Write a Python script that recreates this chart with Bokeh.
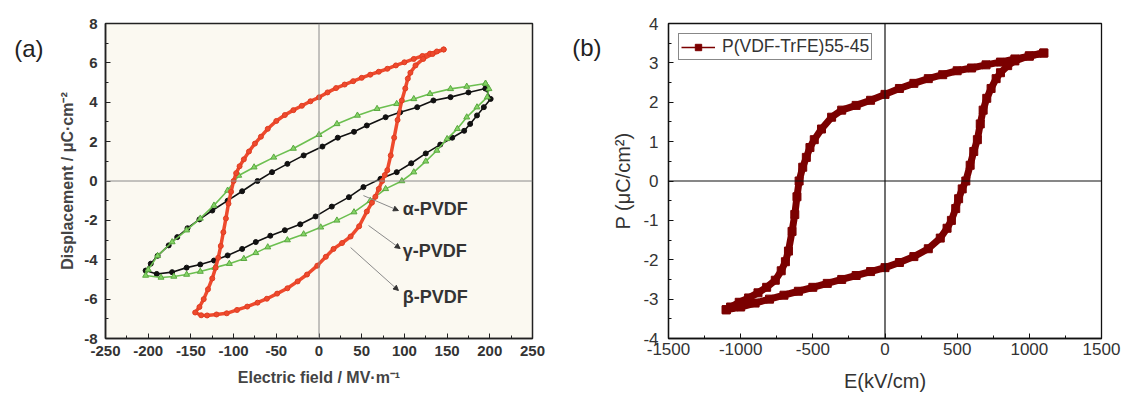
from bokeh.plotting import figure
from bokeh.layouts import row
from bokeh.models import Span, Label, Arrow, NormalHead, FixedTicker, Legend, LegendItem, LinearAxis
from bokeh.embed import file_html
from bokeh.resources import INLINE

# ---------------- Panel (a) data ----------------
alpha_E = [195, 175, 154, 134, 115, 95, 78, 56, 41, 22, 4, -18, -37, -55, -72, -90, -107, -125, -140, -154,
           -166, -176, -189, -197, -203,
           -190, -172, -155, -139, -123, -107, -90, -74, -57, -40, -22, -4, 15, 35, 52, 72, 91, 108, 125,
           142, 156, 170, 177, 185, 193, 201, 195]
alpha_D = [4.70, 4.50, 4.26, 4.09, 3.75, 3.49, 3.24, 2.82, 2.50, 2.20, 1.75, 1.30, 0.87, 0.45, 0.00, -0.52,
           -1.00, -1.50, -1.95, -2.40, -2.85, -3.27, -3.80, -4.20, -4.55,
           -4.72, -4.63, -4.40, -4.24, -4.04, -3.78, -3.45, -3.10, -2.78, -2.50, -2.20, -1.80, -1.30, -0.82,
           -0.31, 0.11, 0.45, 0.90, 1.40, 1.85, 2.20, 2.55, 2.90, 3.33, 3.75, 4.17, 4.70]

gamma_E = [195, 173, 154, 130, 111, 91, 68, 45, 21, 0, -30, -53, -76, -94, -107, -123, -139, -155, -172,
           -189, -200, -203,
           -185, -170, -155, -139, -122, -105, -88, -74, -60, -37, -18, 2, 21, 41, 60, 78, 97, 111, 125,
           138, 150, 162, 173, 185, 197, 199, 195]
gamma_D = [4.95, 4.80, 4.68, 4.43, 4.17, 3.92, 3.67, 3.33, 2.90, 2.35, 1.65, 1.20, 0.70, 0.28, -0.48, -1.24,
           -1.90, -2.50, -3.10, -3.80, -4.50, -4.80,
           -4.90, -4.85, -4.75, -4.60, -4.40, -4.20, -3.95, -3.65, -3.36, -3.00, -2.70, -2.35, -2.00, -1.58,
           -1.00, -0.40, 0.00, 0.45, 1.00, 1.55, 2.14, 2.65, 3.24, 3.75, 4.26, 4.68, 4.95]

beta_E = [146, 138, 130, 121, 111, 100, 90, 80, 70, 60, 50, 40, 30, 20, 10, 0, -10, -20, -30, -40, -50, -60,
          -68, -75, -82, -88, -93, -97, -100, -103, -106, -109, -112, -115, -118, -121, -125, -130, -135,
          -140, -145,
          -138, -131, -120, -108, -96, -84, -72, -61, -49, -37, -25, -14, -2, 8, 17, 27, 37, 47, 56, 62, 66,
          70, 74, 77, 80, 84, 88, 92, 97, 101, 104, 107, 113, 122, 133, 146]
beta_D = [6.68, 6.58, 6.47, 6.35, 6.20, 6.03, 5.87, 5.70, 5.55, 5.40, 5.24, 5.07, 4.90, 4.72, 4.50, 4.25,
          4.05, 3.82, 3.60, 3.35, 3.05, 2.65, 2.25, 1.90, 1.50, 1.10, 0.75, 0.40, 0.00, -0.55, -1.15, -1.90,
          -2.60, -3.30, -3.90, -4.40, -4.95, -5.50, -6.00, -6.40, -6.68,
          -6.82, -6.83, -6.78, -6.72, -6.55, -6.38, -6.18, -5.98, -5.72, -5.45, -5.10, -4.75, -4.30, -3.85,
          -3.45, -3.15, -2.82, -2.30, -1.55, -1.10, -0.80, -0.40, 0.00, 0.30, 0.55, 1.30, 2.20, 3.10, 4.09,
          4.70, 5.20, 5.50, 5.87, 6.20, 6.45, 6.68]

a_xticks = [-250, -200, -150, -100, -50, 0, 50, 100, 150, 200, 250]
a_xminor = [-225, -175, -125, -75, -25, 25, 75, 125, 175, 225]
a_yticks = [-8, -6, -4, -2, 0, 2, 4, 6, 8]
a_yminor = [-7, -5, -3, -1, 1, 3, 5, 7]

ann_text = ["α-PVDF", "γ-PVDF", "β-PVDF"]
ann_text_x = [98, 98, 98]
ann_text_y = [-1.40, -3.58, -5.87]
ann_from_x = [52, 58, 37]
ann_from_y = [-0.74, -2.26, -3.38]
ann_to_x = [93, 95, 93]
ann_to_y = [-1.50, -3.43, -5.56]

# ---------------- Panel (b) data ----------------
pb_E_upper = [1100, 1000, 900, 800, 700, 600, 500, 400, 300, 200, 100, 0, -100, -200, -300, -370, -440, -490,
              -520, -545, -570, -595, -610, -625, -644, -669, -690, -719, -760, -820, -880, -945, -1010, -1070,
              -1100]
pb_P_upper = [3.25, 3.17, 3.10, 3.02, 2.95, 2.87, 2.80, 2.70, 2.60, 2.48, 2.35, 2.20, 2.05, 1.92, 1.80, 1.62,
              1.32, 1.05, 0.85, 0.60, 0.35, 0.00, -0.40, -0.85, -1.28, -1.78, -2.05, -2.28, -2.52, -2.70,
              -2.84, -2.97, -3.08, -3.20, -3.27]
pb_E_lower = [-1100, -1000, -900, -800, -700, -600, -500, -400, -300, -200, -100, 0, 100, 200, 300, 383, 430,
              460, 490, 510, 535, 560, 590, 615, 640, 660, 680, 705, 735, 770, 800, 850, 900, 1000, 1100]
pb_P_lower = [-3.27, -3.20, -3.10, -3.00, -2.90, -2.80, -2.70, -2.60, -2.50, -2.40, -2.30, -2.20, -2.07,
              -1.92, -1.72, -1.45, -1.20, -1.00, -0.70, -0.45, -0.20, 0.00, 0.40, 0.75, 1.05, 1.45, 1.80,
              2.10, 2.35, 2.60, 2.75, 2.93, 3.05, 3.18, 3.25]

b_xticks = [-1500, -1000, -500, 0, 500, 1000, 1500]
b_xminor = [-1250, -750, -250, 250, 750, 1250]
b_yticks = [-4, -3, -2, -1, 0, 1, 2, 3, 4]
b_yminor = [-3.5, -2.5, -1.5, -0.5, 0.5, 1.5, 2.5, 3.5]
legend_label = "P(VDF-TrFE)55-45"
panel_labels = ["(a)", "(b)"]
panel_label_y = [6.755, 3.39]

FONT = "Liberation Sans"


def hyphen_labels(ticks):
    return {t: str(t) for t in ticks}


def panel_tag(p, level, text, standoff):
    ax = LinearAxis(ticker=FixedTicker(ticks=[level], minor_ticks=[]),
                    major_label_overrides={level: text},
                    axis_line_color=None, major_tick_line_color=None, minor_tick_line_color=None,
                    major_tick_in=0, major_tick_out=0, minor_tick_in=0, minor_tick_out=0,
                    major_label_standoff=standoff,
                    major_label_text_font=FONT, major_label_text_font_size="24px",
                    major_label_text_color="#222222")
    p.add_layout(ax, "left")


# ---------------- Figure (a) ----------------
pa = figure(width=560, height=402, x_range=(-250, 250), y_range=(-8, 8),
            output_backend="svg", toolbar_location=None,
            min_border_left=105, min_border_right=28, min_border_top=23, min_border_bottom=64)
pa.background_fill_color = "#fbf9f1"
pa.border_fill_color = "white"
pa.outline_line_color = "#222222"
pa.outline_line_width = 1.5
pa.grid.visible = False

pa.xaxis.ticker = FixedTicker(ticks=a_xticks, minor_ticks=a_xminor)
pa.yaxis.ticker = FixedTicker(ticks=a_yticks, minor_ticks=a_yminor)
pa.xaxis.major_label_overrides = hyphen_labels(a_xticks)
pa.yaxis.major_label_overrides = hyphen_labels(a_yticks)
for ax in (pa.xaxis[0], pa.yaxis[0]):
    ax.major_tick_in = 5
    ax.major_tick_out = 0
    ax.minor_tick_in = 3
    ax.minor_tick_out = 0
    ax.axis_line_color = "#222222"
    ax.axis_line_width = 1.5
    ax.major_tick_line_color = "#222222"
    ax.minor_tick_line_color = "#222222"
    ax.major_label_text_font = FONT
    ax.major_label_text_font_style = "bold"
    ax.major_label_text_font_size = "15px"
    ax.major_label_text_color = "#333333"
    ax.axis_label_text_font = FONT
    ax.axis_label_text_font_style = "bold"
    ax.axis_label_text_font_size = "16px"
    ax.axis_label_text_color = "#444444"
pa.xaxis.major_label_standoff = 7
pa.yaxis.major_label_standoff = 8
pa.xaxis.axis_label = "Electric field / MV·m⁻¹"
pa.yaxis.axis_label = "Displacement / μC·cm⁻²"
pa.xaxis.axis_label_standoff = 10
pa.yaxis.axis_label_standoff = 5
panel_tag(pa, panel_label_y[0], panel_labels[0], 13)

pa.add_layout(Span(location=0, dimension="width", line_color="#8a8a8a", line_width=1))
pa.add_layout(Span(location=0, dimension="height", line_color="#8a8a8a", line_width=1))

pa.line(alpha_E, alpha_D, line_color="#111111", line_width=1.6)
pa.scatter(alpha_E, alpha_D, marker="circle", size=5, fill_color="#111111", line_color="#111111")
pa.line(gamma_E, gamma_D, line_color="#6cbf50", line_width=1.6)
pa.scatter(gamma_E, gamma_D, marker="triangle", size=6, fill_color="#85d466", line_color="#5aa840")
pa.line(beta_E, beta_D, line_color="#ee4a2d", line_width=3.5)
pa.scatter(beta_E, beta_D, marker="circle", size=5, fill_color="#ee4a2d", line_color="#e03d22")

for i in range(3):
    pa.add_layout(Arrow(x_start=ann_from_x[i], y_start=ann_from_y[i], x_end=ann_to_x[i], y_end=ann_to_y[i],
                        line_color="#8a8a8a", line_width=1,
                        end=NormalHead(size=5, fill_color="#333333", line_color="#333333")))
    pa.add_layout(Label(x=ann_text_x[i], y=ann_text_y[i], text=ann_text[i], text_font=FONT,
                        text_font_style="bold", text_font_size="18px", text_color="#333333",
                        text_baseline="middle", text_align="left"))

# ---------------- Figure (b) ----------------
pb = figure(width=567, height=402, x_range=(-1500, 1500), y_range=(-4, 4),
            output_backend="svg", toolbar_location=None,
            min_border_left=108, min_border_right=26, min_border_top=23, min_border_bottom=59)
pb.background_fill_color = "white"
pb.border_fill_color = "white"
pb.outline_line_color = "#111111"
pb.outline_line_width = 1.3
pb.grid.visible = False

pb.xaxis.ticker = FixedTicker(ticks=b_xticks, minor_ticks=b_xminor)
pb.yaxis.ticker = FixedTicker(ticks=b_yticks, minor_ticks=b_yminor)
pb.xaxis.major_label_overrides = hyphen_labels(b_xticks)
pb.yaxis.major_label_overrides = hyphen_labels(b_yticks)
for ax in (pb.xaxis[0], pb.yaxis[0]):
    ax.major_tick_in = 5
    ax.major_tick_out = 0
    ax.minor_tick_in = 3
    ax.minor_tick_out = 0
    ax.axis_line_color = "#111111"
    ax.axis_line_width = 1.3
    ax.major_tick_line_color = "#111111"
    ax.minor_tick_line_color = "#111111"
    ax.major_label_text_font = FONT
    ax.major_label_text_font_size = "17px"
    ax.major_label_text_color = "#333333"
    ax.axis_label_text_font = FONT
    ax.axis_label_text_font_style = "normal"
    ax.axis_label_text_font_size = "20px"
    ax.axis_label_text_color = "#333333"
pb.xaxis.major_label_standoff = 4
pb.yaxis.major_label_standoff = 10
pb.xaxis.axis_label = "E(kV/cm)"
pb.yaxis.axis_label = "P (μC/cm²)"
pb.xaxis.axis_label_standoff = 12
pb.yaxis.axis_label_standoff = 6
panel_tag(pb, panel_label_y[1], panel_labels[1], 8)

pb.add_layout(Span(location=0, dimension="width", line_color="#111111", line_width=1.2))
pb.add_layout(Span(location=0, dimension="height", line_color="#111111", line_width=1.2))

BCOL = "#7b0000"
thin_u = pb.line(pb_E_upper, pb_P_upper, line_color=BCOL, line_width=1.5)
pb.line(pb_E_lower, pb_P_lower, line_color=BCOL, line_width=1.5)
pb.line(pb_E_upper, pb_P_upper, line_color=BCOL, line_width=7)
pb.line(pb_E_lower, pb_P_lower, line_color=BCOL, line_width=7)
sq_u = pb.scatter(pb_E_upper, pb_P_upper, marker="square", size=8, fill_color=BCOL, line_color=BCOL)
pb.scatter(pb_E_lower, pb_P_lower, marker="square", size=8, fill_color=BCOL, line_color=BCOL)

legend = Legend(items=[LegendItem(label=legend_label, renderers=[thin_u, sq_u])],
                location="top_left", border_line_color="#111111", border_line_width=1,
                background_fill_color="white", background_fill_alpha=1,
                label_text_font=FONT, label_text_font_size="17.5px", label_text_color="#333333",
                glyph_width=34, glyph_height=16, label_height=18, padding=2, margin=10,
                label_standoff=7, spacing=0)
pb.add_layout(legend)

layout = row(pa, pb)
open("out.html", "w").write(file_html(layout, INLINE))
